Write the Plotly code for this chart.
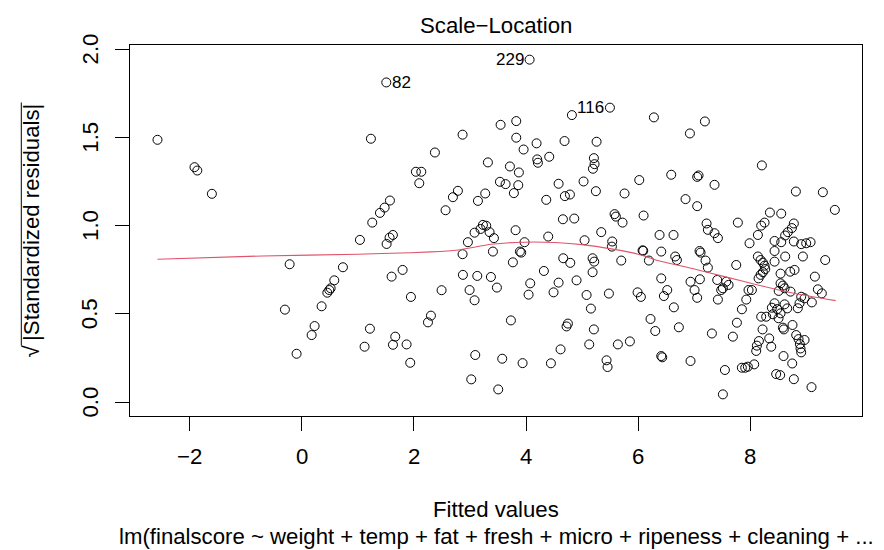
import plotly.graph_objects as go

# Fitted values (x) and sqrt(|standardized residuals|) (y); first three are the labelled points
fitted = [
    1.509, 4.064, 5.496,
    -2.57, -1.91, -1.86, -1.60,
    1.235, 2.869, 2.376, 2.037, 2.133, 2.097, 1.574, 1.479, 1.396, 1.259, 2.786, 2.697, 2.566,
    4.818, 6.280, 3.547, 3.826, 3.826, 3.957, 4.188, 4.687, 5.258, 4.200, 4.212, 4.414, 5.210,
    5.222, 5.193, 3.321, 3.713, 3.873, 3.535, 3.636, 3.862, 3.784, 3.273, 3.143, 4.581, 5.026,
    5.246, 4.693, 4.783, 4.361, 5.757, 6.019, 4.658, 4.860, 5.579, 5.602, 5.721, 6.096, 3.814,
    3.232, 3.291, 3.190, 3.083, 3.350,
    7.189, 6.922, 8.205, 6.589, 7.052, 7.076, 7.361, 6.844, 7.052, 8.811, 9.292, 9.506, 8.348,
    8.550, 7.777, 7.219, 8.253, 8.193, 8.775, 8.740, 8.668, 8.620,
    1.039, 1.515, 1.568, 1.627, -0.214, 0.736, 0.582, 0.517, 0.493, 0.458, 0.356, -0.298, 0.231,
    0.178, -0.090, 1.604, 1.800, 1.948, 2.495, 2.305, 2.252, 1.217, 1.122, 1.669, 1.628, 1.871,
    1.936,
    2.964, 3.428, 2.869, 3.410, 3.974, 3.891, 3.915, 3.766, 4.396, 5.044, 5.341, 5.537, 5.531,
    6.078, 6.090, 5.698, 6.191, 4.664, 4.789, 5.187, 5.216, 5.187, 4.319, 2.875, 3.131, 3.374,
    3.481, 2.994, 3.083, 4.075, 4.046, 4.581, 4.491, 4.901, 5.080, 5.478, 5.157, 5.989, 6.048,
    3.731, 4.747, 4.723, 5.210, 6.220, 6.304, 5.852, 5.638, 5.127, 4.616, 3.095, 3.576, 3.939,
    4.444, 5.436, 5.454, 3.024, 3.505,
    6.381, 6.630, 7.242, 7.361, 7.421, 7.985, 8.134, 8.431, 8.550, 8.775, 8.906, 8.995, 9.073,
    6.411, 6.660, 6.690, 7.094, 7.112, 7.201, 7.242, 7.748, 8.431, 8.621, 8.936, 9.334, 8.134,
    8.182, 8.223, 8.253, 8.265, 8.223, 8.182, 8.146, 8.431, 8.538, 8.710, 8.787, 9.150, 6.411,
    6.518, 6.458, 6.933, 7.005, 7.052, 7.100, 7.409, 7.569, 7.611, 7.510, 7.480, 7.421, 7.967,
    8.027, 7.927, 7.849, 7.760, 7.688, 7.314, 6.725, 6.636, 6.933, 6.411, 6.429, 8.538, 8.580,
    8.505, 8.610, 8.716, 8.906, 8.966, 8.876, 8.846, 9.096, 9.203, 9.274, 8.431, 8.383, 8.478,
    8.610, 8.657, 8.538, 8.502, 8.401, 8.282, 8.193, 8.751, 8.580, 8.597, 8.217, 8.336, 8.372,
    8.152, 8.116, 8.104, 8.817, 8.859, 8.966, 8.882, 8.894, 8.906, 8.591, 8.746, 8.068, 7.955,
    7.908, 7.848, 7.546, 7.510, 8.460, 8.531, 8.775, 9.090,
]
sqrt_abs_std_resid = [
    1.811, 1.940, 1.668,
    1.486, 1.331, 1.312, 1.180,
    1.492, 1.515, 1.414, 1.305, 1.305, 1.240, 1.142, 1.102, 1.072, 1.017, 1.197, 1.161, 1.087,
    1.626, 1.613, 1.571, 1.592, 1.498, 1.431, 1.466, 1.479, 1.475, 1.375, 1.356, 1.390, 1.382,
    1.348, 1.322, 1.358, 1.335, 1.301, 1.248, 1.235, 1.229, 1.184, 1.182, 1.140, 1.237, 1.250,
    1.195, 1.167, 1.176, 1.146, 1.182, 1.258, 1.036, 1.040, 1.065, 1.051, 1.017, 1.057, 0.974,
    1.004, 0.999, 0.981, 0.960, 0.963,
    1.590, 1.522, 1.341, 1.288, 1.276, 1.284, 1.231, 1.150, 1.110, 1.193, 1.189, 1.089, 1.074,
    1.068, 1.017, 1.012, 1.017, 1.000, 1.012, 0.986, 0.963, 0.944,
    0.919, 0.896, 0.932, 0.947, 0.781, 0.764, 0.690, 0.645, 0.635, 0.620, 0.543, 0.524, 0.431,
    0.380, 0.274, 0.711, 0.749, 0.596, 0.634, 0.490, 0.452, 0.416, 0.314, 0.371, 0.325, 0.327,
    0.223,
    0.906, 0.929, 0.838, 0.853, 0.906, 0.853, 0.847, 0.792, 0.938, 0.917, 0.963, 0.910, 0.881,
    0.860, 0.857, 0.802, 0.802, 0.815, 0.789, 0.815, 0.796, 0.736, 0.743, 0.721, 0.715, 0.709,
    0.649, 0.635, 0.577, 0.673, 0.609, 0.677, 0.622, 0.690, 0.607, 0.615, 0.530, 0.622, 0.596,
    0.463, 0.445, 0.429, 0.412, 0.471, 0.403, 0.344, 0.327, 0.327, 0.299, 0.267, 0.246, 0.221,
    0.220, 0.237, 0.199, 0.129, 0.072,
    0.947, 0.947, 0.976, 0.957, 0.929, 0.900, 0.947, 0.913, 0.906, 0.910, 0.895, 0.900, 0.906,
    0.853, 0.825, 0.805, 0.856, 0.847, 0.802, 0.762, 0.777, 0.856, 0.825, 0.825, 0.805, 0.825,
    0.805, 0.790, 0.773, 0.754, 0.736, 0.721, 0.701, 0.796, 0.728, 0.739, 0.749, 0.711, 0.701,
    0.635, 0.601, 0.682, 0.635, 0.591, 0.696, 0.692, 0.682, 0.664, 0.645, 0.635, 0.581, 0.635,
    0.635, 0.581, 0.526, 0.450, 0.371, 0.389, 0.424, 0.537, 0.233, 0.261, 0.254, 0.673, 0.660,
    0.630, 0.645, 0.626, 0.597, 0.588, 0.560, 0.532, 0.565, 0.639, 0.616, 0.560, 0.535, 0.527,
    0.554, 0.531, 0.503, 0.475, 0.498, 0.484, 0.484, 0.437, 0.422, 0.412, 0.412, 0.361, 0.314,
    0.346, 0.320, 0.290, 0.380, 0.357, 0.352, 0.329, 0.304, 0.282, 0.261, 0.219, 0.214, 0.201,
    0.195, 0.195, 0.182, 0.044, 0.159, 0.153, 0.130, 0.085,
]

# Identified observations (indices into the arrays above)
id_labels = ["82", "229", "116"]
id_index = [0, 1, 2]
id_side = ["right", "left", "left"]

# Smoother (lowess) line
smooth_x = [-2.57, -0.70, 1.00, 1.60, 2.30, 2.79, 3.38, 3.97, 4.51, 5.04, 5.52, 6.00,
            6.35, 6.95, 7.54, 8.13, 8.73, 9.52]
smooth_y = [0.809, 0.828, 0.838, 0.843, 0.851, 0.862, 0.894, 0.906, 0.904, 0.891, 0.868,
            0.838, 0.802, 0.758, 0.711, 0.664, 0.620, 0.575]

x_ticks = [-2, 0, 2, 4, 6, 8]
x_tick_text = ["\u22122", "0", "2", "4", "6", "8"]
y_ticks = [0.0, 0.5, 1.0, 1.5, 2.0]
y_tick_text = ["0.0", "0.5", "1.0", "1.5", "2.0"]

FONT = "Liberation Sans, Arial, Helvetica, sans-serif"
FS = 22.2

fig = go.Figure()
fig.add_trace(go.Scatter(
    x=fitted, y=sqrt_abs_std_resid, mode="markers",
    marker=dict(symbol="circle-open", size=9, color="black", line=dict(width=1, color="black")),
    showlegend=False, hoverinfo="x+y",
))
fig.add_trace(go.Scatter(
    x=smooth_x, y=smooth_y, mode="lines",
    line=dict(color="#DF536B", width=1.1, shape="spline", smoothing=0.6),
    showlegend=False, hoverinfo="skip",
))

annotations = []
for lab, idx, side in zip(id_labels, id_index, id_side):
    annotations.append(dict(
        x=fitted[idx], y=sqrt_abs_std_resid[idx], xref="x", yref="y",
        text=lab, showarrow=False,
        xanchor="left" if side == "right" else "right",
        xshift=4 if side == "right" else -4, yanchor="middle",
        font=dict(family=FONT, size=17, color="black"),
    ))

# tick labels (R style: placed in the margin lines)
for v, t in zip(x_ticks, x_tick_text):
    annotations.append(dict(x=v, y=-0.1090, xref="x", yref="paper", text=t, showarrow=False,
                            xanchor="center", yanchor="middle",
                            font=dict(family=FONT, size=FS, color="black")))
for v, t in zip(y_ticks, y_tick_text):
    annotations.append(dict(x=-0.0542, y=v, xref="paper", yref="y", text=t, showarrow=False,
                            xanchor="center", yanchor="middle", textangle=-90,
                            font=dict(family=FONT, size=FS, color="black")))

# Titles (R style margin text)
annotations += [
    dict(text="Scale\u2212Location", x=0.5, y=1.0531, xref="paper", yref="paper",
         showarrow=False, xanchor="center", yanchor="middle",
         font=dict(family=FONT, size=FS, color="black")),
    dict(text="Fitted values", x=0.5, y=-0.2530, xref="paper", yref="paper",
         showarrow=False, xanchor="center", yanchor="middle",
         font=dict(family=FONT, size=FS, color="black")),
    dict(text="lm(finalscore ~ weight + temp + fat + fresh + micro + ripeness + cleaning + ...",
         x=0.5, y=-0.3251, xref="paper", yref="paper",
         showarrow=False, xanchor="center", yanchor="middle",
         font=dict(family=FONT, size=FS, color="black")),
    dict(text="\u221a\u2009|Standardized residuals|", x=-0.1352, y=0.5, xref="paper", yref="paper",
         showarrow=False, xanchor="center", yanchor="middle", textangle=-90,
         font=dict(family=FONT, size=FS, color="black")),
]

# radical overline of the y label
shapes = [dict(type="line", xref="paper", yref="paper",
               x0=-0.1485, x1=-0.1485, y0=0.19, y1=0.845,
               line=dict(color="black", width=1))]

fig.update_layout(
    width=884, height=550,
    margin=dict(l=122, r=30, t=37, b=142.3, pad=0),
    paper_bgcolor="white", plot_bgcolor="white",
    font=dict(family=FONT, size=FS, color="black"),
    annotations=annotations,
    shapes=shapes,
    xaxis=dict(
        range=[-3.06, 9.99], tickvals=x_ticks, showticklabels=False,
        showgrid=False, zeroline=False, showline=True, mirror=True, linecolor="black", linewidth=1,
        ticks="outside", ticklen=14, tickwidth=1, tickcolor="black",
    ),
    yaxis=dict(
        range=[-0.0785, 2.023], tickvals=y_ticks, showticklabels=False,
        showgrid=False, zeroline=False, showline=True, mirror=True, linecolor="black", linewidth=1,
        ticks="outside", ticklen=14, tickwidth=1, tickcolor="black",
    ),
)

fig.write_html("out.html")
